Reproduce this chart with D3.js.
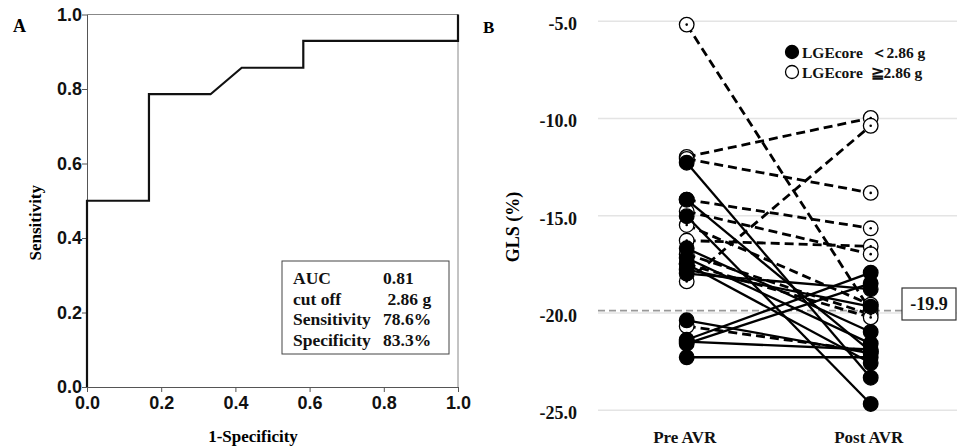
<!DOCTYPE html>
<html>
<head>
<meta charset="utf-8">
<script src="https://cdn.jsdelivr.net/npm/d3@7"></script>
<style>
  body { margin: 0; background: #fff; }
  svg { display: block; }
</style>
</head>
<body>
<svg id="chart" width="957" height="448"></svg>
<script>
// ROC curve, panel A
var rocFpr = [0, 0, 0.167, 0.167, 0.333, 0.417, 0.583, 0.583, 1, 1];
var rocTpr = [0, 0.5, 0.5, 0.786, 0.786, 0.857, 0.857, 0.929, 0.929, 1];
var rocTicks = [0, 0.2, 0.4, 0.6, 0.8, 1.0];
var rocStatsLabels = ['AUC', 'cut off', 'Sensitivity', 'Specificity'];
var rocStatsValues = ['0.81', ' 2.86 g', '78.6%', '83.3%'];

// GLS before / after AVR, panel B
var timepoints = ['Pre AVR', 'Post AVR'];
var glsTicks = [-5, -10, -15, -20, -25];
var glsCutoff = -19.9;
// open = LGEcore >= 2.86 g (dashed), filled = LGEcore < 2.86 g (solid)
var glsPre  = [-5.2, -12.0, -12.1, -14.2, -18.4, -16.3, -14.8, -15.5, -17.0, -20.7, -17.5,
               -12.3, -15.05, -14.2, -21.4, -21.6, -22.3, -20.4, -21.5, -16.7, -17.2, -17.5, -17.8, -18.0];
var glsPost = [-19.9, -10.0, -13.85, -15.67, -10.4, -16.6, -17.0, -19.6, -20.1, -22.0, -20.25,
               -23.35, -24.7, -22.0, -17.95, -18.5, -22.3, -22.1, -21.9, -21.0, -21.6, -22.6, -19.7, -18.8];
var glsGroup = ['high', 'high', 'high', 'high', 'high', 'high', 'high', 'high', 'high', 'high', 'high',
                'low', 'low', 'low', 'low', 'low', 'low', 'low', 'low', 'low', 'low', 'low', 'low', 'low'];
var legendLabels = ['LGEcore  \uFF1C2.86 g', 'LGEcore  \u22672.86 g'];

var svg = d3.select('#chart');
var serif = '"Liberation Serif", "Times New Roman", serif';
var sans = '"Liberation Sans", Arial, sans-serif';
// plain hyphen instead of the unicode minus d3 uses
var fmt1 = function(d) { return d3.format('.1f')(d).replace('\u2212', '-'); };

// ---------- panel A ----------
var xA = d3.scaleLinear().domain([0, 1]).range([87, 458]);
var yA = d3.scaleLinear().domain([0, 1]).range([387, 14.5]);
var gA = svg.append('g');

// frame on top / right
gA.append('line').attr('x1', xA(0)).attr('x2', xA(1)).attr('y1', yA(1)).attr('y2', yA(1))
  .attr('stroke', '#888').attr('stroke-width', 1);
gA.append('line').attr('x1', xA(1)).attr('x2', xA(1)).attr('y1', yA(0)).attr('y2', yA(1))
  .attr('stroke', '#888').attr('stroke-width', 1);

var axisLeftA = d3.axisLeft(yA).tickValues(rocTicks).tickFormat(fmt1).tickSize(5).tickSizeOuter(0);
var axisBottomA = d3.axisBottom(xA).tickValues(rocTicks).tickFormat(fmt1).tickSize(5).tickSizeOuter(0);

gA.append('g').attr('transform', 'translate(' + xA(0) + ',0)').call(axisLeftA)
  .call(function(g) {
    g.selectAll('path,line').attr('stroke', '#555');
    g.selectAll('text').attr('font-family', sans).attr('font-weight', 'bold')
      .attr('font-size', 18).attr('fill', '#111').attr('x', -5);
  });
gA.append('g').attr('transform', 'translate(0,' + yA(0) + ')').call(axisBottomA)
  .call(function(g) {
    g.selectAll('path,line').attr('stroke', '#555');
    g.selectAll('text').attr('font-family', sans).attr('font-weight', 'bold')
      .attr('font-size', 18).attr('fill', '#111').attr('y', 9);
  });

var rocLine = d3.line().x(function(d) { return xA(d[0]); }).y(function(d) { return yA(d[1]); });
gA.append('path')
  .datum(d3.zip(rocFpr, rocTpr))
  .attr('d', rocLine)
  .attr('fill', 'none').attr('stroke', '#111').attr('stroke-width', 2.2);

// stats box
gA.append('rect').attr('x', 282).attr('y', 261).attr('width', 167).attr('height', 93)
  .attr('fill', '#fff').attr('stroke', '#444').attr('stroke-width', 1);
rocStatsLabels.forEach(function(lbl, i) {
  var yy = 284 + i * 20.7;
  gA.append('text').attr('x', 293).attr('y', yy).text(lbl)
    .attr('font-family', serif).attr('font-weight', 'bold').attr('font-size', 17.5).attr('fill', '#111');
  gA.append('text').attr('x', 383).attr('y', yy).text(rocStatsValues[i])
    .style('white-space', 'pre')
    .attr('font-family', serif).attr('font-weight', 'bold').attr('font-size', 17.5).attr('fill', '#111');
});

gA.append('text').attr('x', 13).attr('y', 32).text('A')
  .attr('font-family', serif).attr('font-weight', 'bold').attr('font-size', 18);
gA.append('text').attr('transform', 'translate(41,' + ((yA(0) + yA(1)) / 2 + 22) + ') rotate(-90)')
  .attr('text-anchor', 'middle').text('Sensitivity')
  .attr('font-family', serif).attr('font-weight', 'bold').attr('font-size', 17);
gA.append('text').attr('x', 253).attr('y', 442)
  .attr('text-anchor', 'middle').text('1-Specificity')
  .attr('font-family', serif).attr('font-weight', 'bold').attr('font-size', 17);

// ---------- panel B ----------
var xB = d3.scalePoint().domain(timepoints).range([686.7, 870.7]);
var yB = d3.scaleLinear().domain([-25, -5]).range([409.8, 20.7]);
var gB = svg.append('g');

// gridlines + labels
var axisB = d3.axisLeft(yB).tickValues(glsTicks).tickFormat(fmt1)
  .tickSize(-(957 - 598)).tickSizeOuter(0);
gB.append('g').attr('transform', 'translate(598,0)').call(axisB)
  .call(function(g) {
    g.select('.domain').remove();
    g.selectAll('line').attr('stroke', '#e4e4e4').attr('stroke-width', 1.5);
    g.selectAll('text').attr('font-family', serif).attr('font-weight', 'bold')
      .attr('font-size', 18).attr('fill', '#111').attr('x', -21).attr('y', 3);
  });

// cut-off line
gB.append('line').attr('x1', 598).attr('x2', 902).attr('y1', yB(glsCutoff)).attr('y2', yB(glsCutoff))
  .attr('stroke', '#999').attr('stroke-width', 1.6).attr('stroke-dasharray', '7,4');
gB.append('rect').attr('x', 902).attr('y', 288).attr('width', 54).attr('height', 32)
  .attr('fill', '#fff').attr('stroke', '#333').attr('stroke-width', 1.2);
gB.append('text').attr('x', 929).attr('y', 310).attr('text-anchor', 'middle').text(fmt1(glsCutoff))
  .attr('font-family', serif).attr('font-weight', 'bold').attr('font-size', 18).attr('fill', '#111');

var pairs = glsPre.map(function(v, i) {
  return { pre: v, post: glsPost[i], group: glsGroup[i] };
});
var highPairs = pairs.filter(function(d) { return d.group === 'high'; });
var lowPairs = pairs.filter(function(d) { return d.group === 'low'; });

function drawLines(data, dashed) {
  gB.selectAll(null).data(data).enter().append('line')
    .attr('x1', xB('Pre AVR')).attr('x2', xB('Post AVR'))
    .attr('y1', function(d) { return yB(d.pre); })
    .attr('y2', function(d) { return yB(d.post); })
    .attr('stroke', '#000')
    .attr('stroke-width', dashed ? 2.8 : 2.3)
    .attr('stroke-dasharray', dashed ? '9,5' : null);
}
function drawPoints(data, filled) {
  timepoints.forEach(function(tp) {
    gB.selectAll(null).data(data).enter().append('circle')
      .attr('cx', xB(tp))
      .attr('cy', function(d) { return yB(tp === 'Pre AVR' ? d.pre : d.post); })
      .attr('r', 7.3)
      .attr('fill', filled ? '#000' : '#fff')
      .attr('stroke', '#000').attr('stroke-width', 1.3);
    if (!filled) {
      gB.selectAll(null).data(data).enter().append('circle')
        .attr('cx', xB(tp))
        .attr('cy', function(d) { return yB(tp === 'Pre AVR' ? d.pre : d.post); })
        .attr('r', 1.3).attr('fill', '#000');
    }
  });
}

drawLines(highPairs, true);
drawPoints(highPairs, false);
drawLines(lowPairs, false);
drawPoints(lowPairs, true);

// legend
legendLabels.forEach(function(lbl, i) {
  var yy = 52 + i * 20;
  gB.append('circle').attr('cx', 792).attr('cy', yy).attr('r', 6.5)
    .attr('fill', i === 0 ? '#000' : '#fff').attr('stroke', '#000').attr('stroke-width', 1.3);
  gB.append('text').attr('x', 802).attr('y', yy + 5.5).text(lbl)
    .style('white-space', 'pre')
    .attr('font-family', serif).attr('font-weight', 'bold').attr('font-size', 15.5).attr('fill', '#111');
});

gB.append('text').attr('x', 483).attr('y', 33).text('B')
  .attr('font-family', serif).attr('font-weight', 'bold').attr('font-size', 17);
gB.append('text').attr('transform', 'translate(519,227) rotate(-90)')
  .attr('text-anchor', 'middle').text('GLS (%)')
  .attr('font-family', serif).attr('font-weight', 'bold').attr('font-size', 18);
timepoints.forEach(function(tp) {
  gB.append('text').attr('x', xB(tp) - 2).attr('y', 443).attr('text-anchor', 'middle').text(tp)
    .attr('font-family', serif).attr('font-weight', 'bold').attr('font-size', 17).attr('fill', '#111');
});
</script>
</body>
</html>
